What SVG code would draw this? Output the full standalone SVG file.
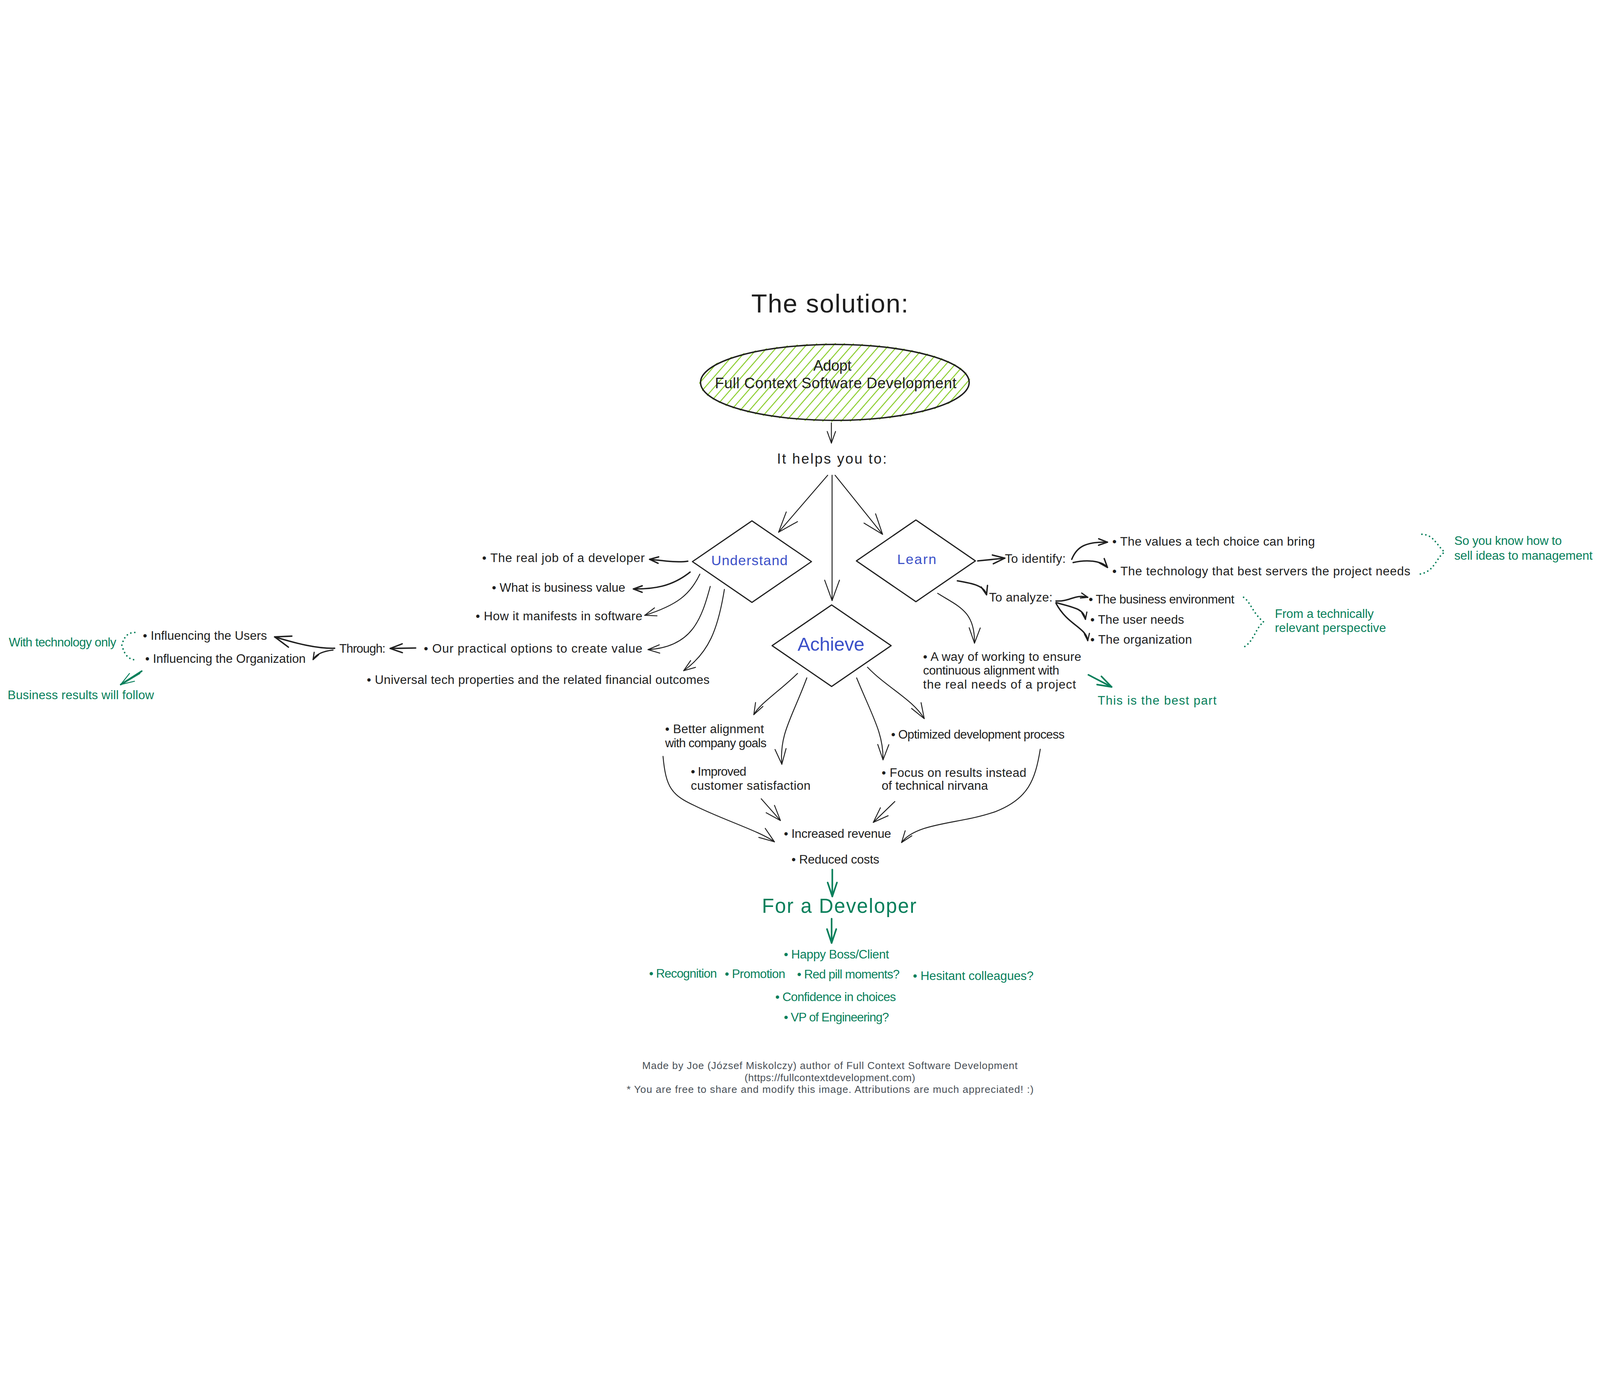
<svg xmlns="http://www.w3.org/2000/svg" width="6909" height="3551" viewBox="0 0 6909 3551">
<style>
svg{width:100vw;height:100vh}
text{font-family:"Liberation Sans",Arial,"DejaVu Sans",sans-serif;fill:#1e1e1e}
.t{font-size:53px}
.h{font-size:62px}
.g{fill:#087f5b}
.bl{fill:#3b50c8}
.ft{font-size:44px;fill:#495057}
.node{fill:none;stroke:#1e1e1e;stroke-width:5;stroke-linejoin:round}
.c{fill:none;stroke:#1e1e1e;stroke-width:4;stroke-linecap:round;stroke-linejoin:round}
.ct{stroke-width:6}
.c5{stroke-width:5}
.cg{fill:none;stroke:#087f5b;stroke-width:7;stroke-linecap:round;stroke-linejoin:round}
.dot{fill:none;stroke:#087f5b;stroke-width:7;stroke-linecap:round;stroke-dasharray:0.1 17}
</style>
<defs>
<pattern id="hatch" patternUnits="userSpaceOnUse" width="30" height="30" patternTransform="rotate(41)">
<line x1="15" y1="0" x2="15" y2="30" stroke="#82c91e" stroke-width="4"/>
</pattern>
<clipPath id="ellClip"><ellipse cx="3605" cy="432" rx="586" ry="170"/></clipPath>
<marker id="mBig" markerUnits="userSpaceOnUse" markerWidth="240" markerHeight="240" viewBox="-120 -120 240 240" refX="0" refY="0" orient="auto" overflow="visible"><path d="M-88,-32 L0,0 L-88,32" fill="none" stroke="#1e1e1e" stroke-width="4" stroke-linecap="round" stroke-linejoin="round"/></marker>
<marker id="mL" markerUnits="userSpaceOnUse" markerWidth="240" markerHeight="240" viewBox="-120 -120 240 240" refX="0" refY="0" orient="auto" overflow="visible"><path d="M-66,-24 L0,0 L-66,24" fill="none" stroke="#1e1e1e" stroke-width="4" stroke-linecap="round" stroke-linejoin="round"/></marker>
<marker id="mMed" markerUnits="userSpaceOnUse" markerWidth="240" markerHeight="240" viewBox="-120 -120 240 240" refX="0" refY="0" orient="auto" overflow="visible"><path d="M-50,-18 L0,0 L-50,18" fill="none" stroke="#1e1e1e" stroke-width="4" stroke-linecap="round" stroke-linejoin="round"/></marker>
<marker id="mMedT" markerUnits="userSpaceOnUse" markerWidth="240" markerHeight="240" viewBox="-120 -120 240 240" refX="0" refY="0" orient="auto" overflow="visible"><path d="M-52,-19 L0,0 L-52,19" fill="none" stroke="#1e1e1e" stroke-width="6" stroke-linecap="round" stroke-linejoin="round"/></marker>
<marker id="mLgT" markerUnits="userSpaceOnUse" markerWidth="240" markerHeight="240" viewBox="-120 -120 240 240" refX="0" refY="0" orient="auto" overflow="visible"><path d="M-70,-25 L0,0 L-70,25" fill="none" stroke="#1e1e1e" stroke-width="6" stroke-linecap="round" stroke-linejoin="round"/></marker>
<marker id="mSmT" markerUnits="userSpaceOnUse" markerWidth="240" markerHeight="240" viewBox="-120 -120 240 240" refX="0" refY="0" orient="auto" overflow="visible"><path d="M-38,-14 L0,0 L-38,14" fill="none" stroke="#1e1e1e" stroke-width="6" stroke-linecap="round" stroke-linejoin="round"/></marker>
<marker id="mXs" markerUnits="userSpaceOnUse" markerWidth="240" markerHeight="240" viewBox="-120 -120 240 240" refX="0" refY="0" orient="auto" overflow="visible"><path d="M-30,-11 L0,0 L-30,11" fill="none" stroke="#1e1e1e" stroke-width="5" stroke-linecap="round" stroke-linejoin="round"/></marker>
<marker id="mG" markerUnits="userSpaceOnUse" markerWidth="240" markerHeight="240" viewBox="-120 -120 240 240" refX="0" refY="0" orient="auto" overflow="visible"><path d="M-60,-20 L0,0 L-60,20" fill="none" stroke="#087f5b" stroke-width="7" stroke-linecap="round" stroke-linejoin="round"/></marker>
<marker id="mGt" markerUnits="userSpaceOnUse" markerWidth="240" markerHeight="240" viewBox="-120 -120 240 240" refX="0" refY="0" orient="auto" overflow="visible"><path d="M-58,-20 L0,0 L-58,20" fill="none" stroke="#087f5b" stroke-width="4" stroke-linecap="round" stroke-linejoin="round"/></marker>
</defs>
<rect x="0" y="0" width="6909" height="3551" fill="#ffffff"/>

<g id="title"><text x="3244" y="130" font-size="112" textLength="678">The solution:</text></g>

<g id="adopt">
<ellipse cx="3605" cy="432" rx="600" ry="180" fill="url(#hatch)" clip-path="url(#ellClip)"/>
<ellipse cx="3605" cy="432" rx="580" ry="164" fill="none" stroke="#1e1e1e" stroke-width="6"/>
<text x="3512" y="382" font-size="64" textLength="165">Adopt</text>
<text x="3087" y="458" font-size="64" textLength="1043">Full Context Software Development</text>
</g>

<g id="helps"><text class="h" x="3355" y="783" textLength="474">It helps you to:</text></g>

<g id="understand">
<polygon class="node" points="3247,1030 3504,1206 3247,1382 2990,1206"/>
<text class="bl" x="3071" y="1221" font-size="60" textLength="330">Understand</text>
</g>
<g id="learn">
<polygon class="node" points="3955,1026 4212,1203 3955,1379 3698,1203"/>
<text class="bl" x="3874" y="1216" font-size="60" textLength="169">Learn</text>
</g>
<g id="achieve">
<polygon class="node" points="3591,1393 3848,1569 3591,1745 3334,1569"/>
<text class="bl" x="3444" y="1590" font-size="82" textLength="289">Achieve</text>
</g>

<g id="u-realjob"><text class="t" x="2082" y="1208" textLength="702">• The real job of a developer</text></g>
<g id="u-bizvalue"><text class="t" x="2124" y="1336" textLength="576">• What is business value</text></g>
<g id="u-manifests"><text class="t" x="2054" y="1460" textLength="720">• How it manifests in software</text></g>
<g id="u-options"><text class="t" x="1830" y="1600" textLength="944">• Our practical options to create value</text></g>
<g id="u-universal"><text class="t" x="1584" y="1734" textLength="1480">• Universal tech properties and the related financial outcomes</text></g>
<g id="through"><text class="t" x="1465" y="1600" textLength="200">Through:</text></g>
<g id="infl-users"><text class="t" x="617" y="1543" textLength="536">• Influencing the Users</text></g>
<g id="infl-org"><text class="t" x="627" y="1643" textLength="693">• Influencing the Organization</text></g>

<g id="l-identify"><text class="t" x="4339" y="1211" textLength="263">To identify:</text></g>
<g id="l-values"><text class="t" x="4803" y="1137" textLength="875">• The values a tech choice can bring</text></g>
<g id="l-technology"><text class="t" x="4803" y="1266" textLength="1287">• The technology that best servers the project needs</text></g>
<g id="l-analyze"><text class="t" x="4271" y="1378" textLength="274">To analyze:</text></g>
<g id="l-business"><text class="t" x="4701" y="1386" textLength="629">• The business environment</text></g>
<g id="l-users"><text class="t" x="4708" y="1475" textLength="405">• The user needs</text></g>
<g id="l-org"><text class="t" x="4708" y="1561" textLength="439">• The organization</text></g>
<g id="l-way">
<text class="t" x="3986" y="1634" textLength="683">• A way of working to ensure</text>
<text class="t" x="3986" y="1694" textLength="588">continuous alignment with</text>
<text class="t" x="3986" y="1755" textLength="660">the real needs of a project</text>
</g>

<g id="a-alignment">
<text class="t" x="2872" y="1947" textLength="427">• Better alignment</text>
<text class="t" x="2872" y="2008" textLength="438">with company goals</text>
</g>
<g id="a-satisfaction">
<text class="t" x="2983" y="2131" textLength="240">• Improved</text>
<text class="t" x="2983" y="2192" textLength="517">customer satisfaction</text>
</g>
<g id="a-optimized"><text class="t" x="3848" y="1970" textLength="749">• Optimized development process</text></g>
<g id="a-focus">
<text class="t" x="3807" y="2135" textLength="625">• Focus on results instead</text>
<text class="t" x="3807" y="2192" textLength="459">of technical nirvana</text>
</g>
<g id="results">
<text class="t" x="3385" y="2399" textLength="463">• Increased revenue</text>
<text class="t" x="3418" y="2510" textLength="379">• Reduced costs</text>
</g>

<g id="developer"><text class="g" x="3290" y="2723" font-size="86" textLength="667">For a Developer</text></g>
<g id="benefits">
<text class="t g" x="3385" y="2920" textLength="454">• Happy Boss/Client</text>
<text class="t g" x="2803" y="3003" textLength="293">• Recognition</text>
<text class="t g" x="3130" y="3005" textLength="261">• Promotion</text>
<text class="t g" x="3442" y="3006" textLength="443">• Red pill moments?</text>
<text class="t g" x="3942" y="3012" textLength="521">• Hesitant colleagues?</text>
<text class="t g" x="3348" y="3104" textLength="521">• Confidence in choices</text>
<text class="t g" x="3385" y="3191" textLength="454">• VP of Engineering?</text>
</g>

<g id="note-management">
<text class="t g" x="6280" y="1134" textLength="464">So you know how to</text>
<text class="t g" x="6280" y="1197" textLength="597">sell ideas to management</text>
</g>
<g id="note-perspective">
<text class="t g" x="5505" y="1449" textLength="427">From a technically</text>
<text class="t g" x="5505" y="1510" textLength="480">relevant perspective</text>
</g>
<g id="note-best"><text class="t g" x="4740" y="1823" textLength="513">This is the best part</text></g>
<g id="note-techonly"><text class="t g" x="38" y="1573" textLength="464">With technology only</text></g>
<g id="note-business"><text class="t g" x="33" y="1800" textLength="632">Business results will follow</text></g>

<g id="footer">
<text class="ft" x="2773" y="3398" textLength="1621">Made by Joe (József Miskolczy) author of Full Context Software Development</text>
<text class="ft" x="3215" y="3449" textLength="737">(https://fullcontextdevelopment.com)</text>
<text class="ft" x="2706" y="3500" textLength="1757">* You are free to share and modify this image. Attributions are much appreciated! :)</text>
</g>

<g id="connectors">
<path class="c" d="M3590,607 L3590,694" marker-end="url(#mMed)"/>
<path class="c" d="M3574,833 L3362,1079" marker-end="url(#mBig)"/>
<path class="c" d="M3593,833 L3593,1374" marker-end="url(#mBig)"/>
<path class="c" d="M3606,833 L3811,1088" marker-end="url(#mBig)"/>
<path class="c ct" d="M2970,1204 C2920,1212 2850,1200 2805,1196" marker-end="url(#mSmT)"/>
<path class="c ct" d="M2980,1251 C2900,1315 2820,1325 2735,1324" marker-end="url(#mSmT)"/>
<path class="c" d="M3022,1260 C2980,1350 2920,1395 2784,1438" marker-end="url(#mMed)"/>
<path class="c" d="M3067,1313 C3030,1450 2990,1575 2798,1586" marker-end="url(#mMed)"/>
<path class="c" d="M3128,1326 C3100,1500 3060,1600 2952,1677" marker-end="url(#mMed)"/>
<path class="c ct" d="M1795,1579 L1685,1581" marker-end="url(#mMedT)"/>
<path class="c ct" d="M1445,1580 C1370,1582 1280,1560 1186,1531" marker-end="url(#mLgT)"/>
<path class="c c5" d="M1438,1588 C1395,1593 1365,1605 1352,1629" marker-end="url(#mXs)"/>
<path class="c ct" d="M4222,1203 L4339,1191" marker-end="url(#mMedT)"/>
<path class="c ct" d="M4628,1196 C4650,1140 4690,1120 4782,1122" marker-end="url(#mSmT)"/>
<path class="c ct" d="M4634,1210 C4700,1195 4760,1205 4782,1231" marker-end="url(#mSmT)"/>
<path class="c ct" d="M4134,1289 C4200,1300 4250,1310 4260,1349" marker-end="url(#mSmT)"/>
<path class="c ct" d="M4560,1376 C4620,1380 4640,1345 4697,1360" marker-end="url(#mXs)"/>
<path class="c ct" d="M4560,1383 C4640,1405 4680,1410 4687,1455" marker-end="url(#mXs)"/>
<path class="c ct" d="M4560,1386 C4610,1480 4690,1490 4697,1547" marker-end="url(#mXs)"/>
<path class="c" d="M4049,1343 C4140,1400 4210,1420 4208,1558" marker-end="url(#mL)"/>
<path class="c" d="M3444,1689 C3360,1770 3280,1820 3255,1867" marker-end="url(#mMed)"/>
<path class="c" d="M3484,1708 C3420,1880 3365,1950 3376,2081" marker-end="url(#mL)"/>
<path class="c" d="M3699,1708 C3770,1880 3815,1950 3813,2062" marker-end="url(#mL)"/>
<path class="c" d="M3746,1662 C3830,1750 3940,1800 3991,1884" marker-end="url(#mL)"/>
<path class="c" d="M2863,2047 C2875,2180 2900,2215 3000,2260 C3120,2320 3280,2370 3344,2416" marker-end="url(#mL)"/>
<path class="c" d="M3287,2230 L3370,2324" marker-end="url(#mL)"/>
<path class="c" d="M3864,2242 L3771,2332" marker-end="url(#mL)"/>
<path class="c" d="M4492,2016 C4470,2150 4440,2230 4300,2285 C4150,2340 3960,2330 3893,2419" marker-end="url(#mMed)"/>
<path class="cg" d="M3594,2536 L3594,2652" marker-end="url(#mG)"/>
<path class="cg" d="M3591,2748 L3591,2853" marker-end="url(#mG)"/>
<path class="cg" stroke-width="8" d="M4700,1695 L4800,1747" marker-end="url(#mG)"/>
<path class="cg" stroke-width="4" d="M612,1679 L521,1737" marker-end="url(#mGt)"/>
<path class="cg" stroke-width="3" d="M603,1688 L528,1733"/>
<path class="dot" d="M582,1512 C548,1512 535,1535 526,1566 C535,1600 550,1628 582,1630"/>
<path class="dot" d="M6140,1088 C6190,1090 6200,1130 6238,1165 C6200,1190 6195,1250 6130,1260"/>
<path class="dot" d="M5370,1360 C5400,1380 5410,1430 5457,1467 C5420,1490 5415,1560 5360,1580"/>
</g>
</svg>
